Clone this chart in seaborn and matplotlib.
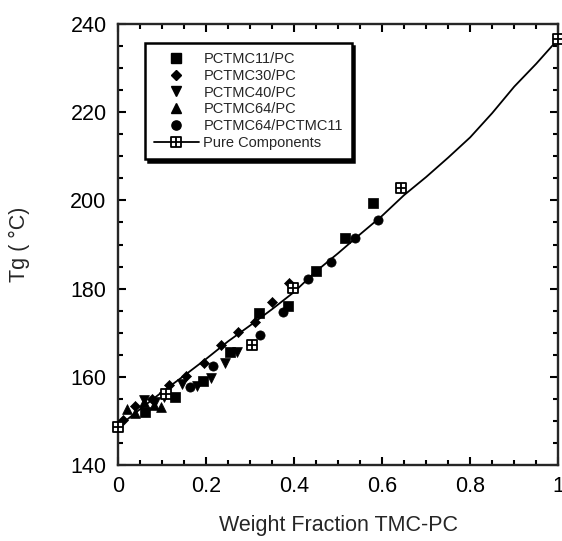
import numpy as np
import pandas as pd
import matplotlib
matplotlib.use("Agg")
import matplotlib.pyplot as plt
from matplotlib.path import Path
from matplotlib.lines import Line2D
from matplotlib.ticker import MultipleLocator, FuncFormatter
import seaborn as sns

# -------------------------
# Data
# -------------------------
tmc11_x = [0.063, 0.130, 0.193, 0.256, 0.320, 0.387, 0.451, 0.515, 0.580]
tmc11_y = [152.1, 155.5, 159.1, 165.6, 174.5, 176.0, 184.0, 191.5, 199.4]

tmc30_x = [0.011, 0.039, 0.078, 0.116, 0.155, 0.195, 0.235, 0.272, 0.312, 0.351, 0.389]
tmc30_y = [150.2, 153.3, 155.0, 158.1, 160.1, 163.1, 167.2, 170.2, 172.5, 176.9, 181.3]

tmc40_x = [0.060, 0.085, 0.104, 0.145, 0.179, 0.212, 0.243, 0.271]
tmc40_y = [154.8, 154.2, 155.4, 158.4, 157.9, 159.8, 163.1, 165.6]

tmc64_x = [0.022, 0.040, 0.060, 0.083, 0.098]
tmc64_y = [152.6, 151.7, 154.3, 153.6, 153.2]

tmc64_11_x = [0.165, 0.217, 0.323, 0.376, 0.432, 0.485, 0.538, 0.590]
tmc64_11_y = [157.7, 162.4, 169.4, 174.7, 182.2, 186.1, 191.5, 195.6]

pure_x = [0.0, 0.110, 0.305, 0.399, 0.643, 1.0]
pure_y = [148.6, 156.2, 167.3, 180.2, 202.7, 236.6]

fit_x = [0, 0.05, 0.1, 0.15, 0.2, 0.25, 0.3, 0.35, 0.4, 0.45, 0.5,
         0.55, 0.6, 0.65, 0.7, 0.75, 0.8, 0.85, 0.9, 0.95, 1.0]
fit_y = [148.6, 152.6, 156.5, 160.2, 164.0, 168.0, 171.6, 175.3, 179.2, 183.9, 188.0,
         192.3, 196.5, 201.2, 205.3, 209.7, 214.3, 219.8, 225.8, 231.0, 236.6]

labels = ["PCTMC11/PC", "PCTMC30/PC", "PCTMC40/PC", "PCTMC64/PC",
          "PCTMC64/PCTMC11", "Pure Components"]

# -------------------------
# Style
# -------------------------
sns.set_style("ticks")
plt.rcParams["font.family"] = ["Liberation Sans", "DejaVu Sans"]
plt.rcParams["axes.linewidth"] = 1.7

# open square with a cross inside
box_cross = Path(
    [(-1, -1), (1, -1), (1, 1), (-1, 1), (-1, -1),
     (0, -1), (0, 1), (-1, 0), (1, 0)],
    [Path.MOVETO, Path.LINETO, Path.LINETO, Path.LINETO, Path.CLOSEPOLY,
     Path.MOVETO, Path.LINETO, Path.MOVETO, Path.LINETO]
)

fig = plt.figure(figsize=(5.62, 5.41), dpi=100)
ax = fig.add_axes([117.7 / 562, 76 / 541, 440.6 / 562, 441 / 541])

series = [
    (tmc11_x, tmc11_y, "s", 48),
    (tmc30_x, tmc30_y, "D", 26),
    (tmc40_x, tmc40_y, "v", 50),
    (tmc64_x, tmc64_y, "^", 50),
    (tmc64_11_x, tmc64_11_y, "o", 44),
]

sns.lineplot(x=fit_x, y=fit_y, color="black", linewidth=1.3, ax=ax, zorder=2)

for xs, ys, mk, size in series:
    sns.scatterplot(x=xs, y=ys, marker=mk, s=size, color="black",
                    edgecolor="black", linewidth=0.5, ax=ax, zorder=3)

sns.scatterplot(x=pure_x, y=pure_y, marker=box_cross, s=50, color="white",
                edgecolor="black", linewidth=1.3, ax=ax, zorder=4, clip_on=False)

ax.set_xlim(0, 1)
ax.set_ylim(140, 240)
ax.xaxis.set_major_locator(MultipleLocator(0.2))
ax.xaxis.set_minor_locator(MultipleLocator(0.05))
ax.yaxis.set_major_locator(MultipleLocator(20))
ax.yaxis.set_minor_locator(MultipleLocator(5))
ax.xaxis.set_major_formatter(FuncFormatter(lambda v, _: f"{v:g}"))

ax.tick_params(which="both", direction="in", top=True, right=True,
               width=1.5, labelsize=15.5, colors="black")
ax.tick_params(which="major", length=6, pad=8)
ax.tick_params(which="minor", length=3.5)

for sp in ax.spines.values():
    sp.set_visible(True)
    sp.set_linewidth(1.7)

ax.set_xlabel("Weight Fraction TMC-PC", fontsize=15.5)
ax.set_ylabel("Tg ( °C)", fontsize=15.5)
ax.xaxis.set_label_coords(0.5, -0.113)
ax.yaxis.set_label_coords(-0.199, 0.5)

# -------------------------
# Legend
# -------------------------
handles = [Line2D([], [], linestyle="none", marker=mk, color="black",
                  markersize=np.sqrt(size)) for _, _, mk, size in series]
handles.append(Line2D([], [], color="black", linewidth=1.3, marker=box_cross,
                      markersize=7, markerfacecolor="white",
                      markeredgecolor="black", markeredgewidth=1.3))

leg = ax.legend(handles, labels, loc="upper left",
                bbox_to_anchor=(0.062, 0.957), borderaxespad=0,
                fontsize=10.5, frameon=True, fancybox=False, framealpha=1,
                edgecolor="black", handlelength=3.1, handletextpad=0.3,
                labelspacing=0.2, borderpad=0.6,
                shadow={"color": "black", "alpha": 1})
leg.get_frame().set_linewidth(1.8)

fig.savefig("out.png", dpi=100)
